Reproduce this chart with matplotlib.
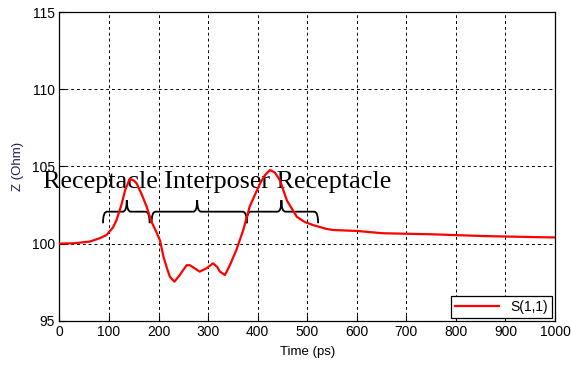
import matplotlib
matplotlib.use("Agg")
import matplotlib.pyplot as plt
from matplotlib.path import Path
from matplotlib.patches import PathPatch

# Z(t) trace
time_ps = [0, 30, 61, 80, 95, 108, 115, 125, 133, 142, 150, 156, 166, 176, 186, 195, 203, 210,
           217, 223, 232, 243, 250, 257, 263, 273, 283, 297, 310, 318, 324, 334, 344, 357,
           371, 384, 395, 405, 415, 425, 435, 445, 459, 479, 495, 512, 539, 553, 600, 653,
           700, 754, 800, 855, 900, 976, 1000]
z_ohm = [100.0, 100.02, 100.13, 100.33, 100.55, 101.04, 101.5, 102.5, 103.5, 104.2, 104.1, 103.9,
         103.2, 102.4, 101.4, 100.8, 100.2, 99.15, 98.4, 97.85, 97.53, 97.96, 98.3, 98.6,
         98.6, 98.4, 98.18, 98.4, 98.72, 98.5, 98.18, 97.96, 98.6, 99.58, 100.88, 102.4,
         103.2, 103.9, 104.45, 104.77, 104.6, 104.1, 102.8, 101.74, 101.4, 101.2, 100.95,
         100.88, 100.82, 100.67, 100.64, 100.6, 100.55, 100.49, 100.46, 100.41, 100.4]

x_ticks = [0, 100, 200, 300, 400, 500, 600, 700, 800, 900, 1000]
y_ticks = [95, 100, 105, 110, 115]

label_text = "Receptacle Interposer Receptacle"
# braces: (start, tip, end) in ps
braces = [(88, 136, 182), (186, 278, 378), (378, 448, 522)]


def brace(ax, a, m, b, y0=102.07, d=0.75, h=0.75, r=8):
    verts = [(a, y0 - d), (a, y0), (a + r, y0),
             (m - r, y0), (m, y0), (m, y0 + h),
             (m, y0), (m + r, y0),
             (b - r, y0), (b, y0), (b, y0 - d)]
    codes = [Path.MOVETO, Path.CURVE3, Path.CURVE3,
             Path.LINETO, Path.CURVE3, Path.CURVE3,
             Path.CURVE3, Path.CURVE3,
             Path.LINETO, Path.CURVE3, Path.CURVE3]
    ax.add_patch(PathPatch(Path(verts, codes), fill=False, color="black", lw=1.3, zorder=3))


plt.rcParams["font.family"] = ["Liberation Sans", "DejaVu Sans"]
fig = plt.figure(figsize=(5.71, 3.65), dpi=100)
ax = fig.add_axes([0.104, 0.1214, 0.868, 0.8449])

ax.plot(time_ps, z_ohm, color="red", lw=1.6, label="S(1,1)", zorder=4)

for a, m, b in braces:
    brace(ax, a, m, b)

ax.text(-34, 103.59, label_text, family=["Liberation Serif", "DejaVu Serif"],
        fontsize=18.8, va="baseline", ha="left", zorder=2, clip_on=False)

ax.set_xlim(0, 1000)
ax.set_ylim(95, 115)
ax.set_xticks(x_ticks)
ax.set_yticks(y_ticks)
ax.tick_params(direction="in", labelsize=10, length=4, colors="black", pad=3)
ax.grid(True, color="black", linestyle=(0, (3, 3)), lw=0.7)
ax.set_xlabel("Time (ps)", fontsize=9.5, labelpad=5)
ax.set_ylabel("Z (Ohm)", fontsize=9.5, color="#202050", labelpad=6)
for s in ax.spines.values():
    s.set_linewidth(0.9)

leg = ax.legend(loc="lower right", fontsize=10, fancybox=False, framealpha=1,
                edgecolor="black", borderpad=0.3, handlelength=3.2,
                borderaxespad=0.2)
leg.get_frame().set_linewidth(0.9)

fig.savefig("out.png", dpi=100)
